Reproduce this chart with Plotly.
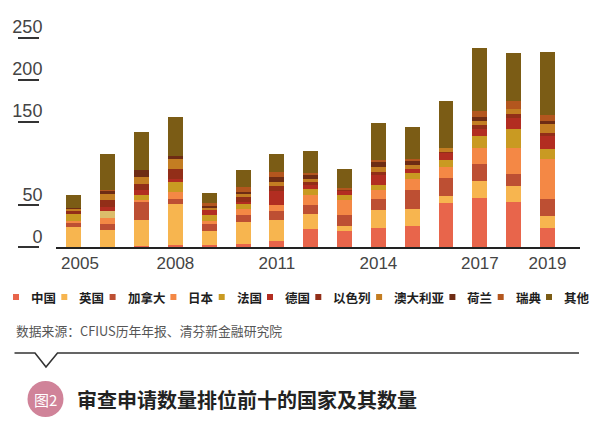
import plotly.graph_objects as go

# ---------------- data ----------------
years = list(range(2005, 2020))
series_names = ["中国", "英国", "加拿大", "日本", "法国", "德国", "以色列", "澳大利亚", "荷兰", "瑞典", "其他"]

china     = [0, 0, 2, 3, 3, 4, 8, 22, 19, 23, 26, 53, 59, 54, 23]
uk        = [24, 21, 31, 49, 16, 26, 25, 18, 7, 21, 20, 8, 20, 19, 14]
canada    = [6, 7, 22, 6, 9, 8, 10, 11, 12, 14, 23, 22, 20, 15, 21]
japan     = [2, 7, 2, 8, 4, 8, 7, 11, 18, 11, 12, 13, 20, 31, 48]
france    = [8, 8, 6, 12, 7, 6, 0, 8, 7, 6, 8, 8, 14, 22, 12]
germany   = [0, 5, 6, 4, 6, 2, 17, 4, 5, 11, 4, 9, 8, 14, 16]
israel    = [4, 8, 7, 11, 0, 6, 6, 5, 1, 4, 0, 1, 5, 4, 2]
australia = [2, 8, 8, 12, 2, 4, 5, 2, 0, 6, 5, 5, 5, 6, 11]
netherl   = [1, 4, 8, 4, 2, 2, 6, 6, 0, 6, 6, 0, 5, 0, 4]
sweden    = [0, 1, 0, 0, 4, 6, 6, 2, 2, 2, 1, 0, 7, 10, 7]
others    = [16, 42, 46, 47, 12, 20, 22, 26, 23, 44, 39, 56, 75, 57, 75]

series_values = [china, uk, canada, japan, france, germany, israel, australia, netherl, sweden, others]

x_tick_labels = ["2005", "2008", "2011", "2014", "2017", "2019"]
y_tick_labels = ["0", "50", "150", "200", "250"]

source_text = "数据来源：CFIUS历年年报、清芬新金融研究院"
badge_text = "图2"
title_text = "审查申请数量排位前十的国家及其数量"

# ---------------- style ----------------
colors = ["#E8654B", "#F7B54F", "#BD4F33", "#F48845", "#C99A22", "#B22D21",
          "#922E18", "#C37D22", "#6E2C14", "#B3561E", "#7B5C15"]

# the page body has an 8px margin: size the figure so it fills the 599x429 window
OFF = 8
W, H = 599 - OFF, 429 - OFF
def px(x):
    return (x - OFF) / W
def py(y):
    return 1 - (y - OFF) / H

fig = go.Figure()
for name, vals, col in zip(series_names, series_values, colors):
    cols = [col] * len(years)
    if name == "法国":
        cols[1] = "#DCBD6B"  # lighter tint in 2006 bar
    fig.add_trace(go.Bar(
        x=years, y=vals, name=name,
        marker=dict(color=cols, line=dict(width=0)),
        showlegend=False, hoverinfo="x+y+name",
    ))

tick_years = [int(t) for t in x_tick_labels]
tick_pos = [t + (0.18 if t == 2005 else 0) for t in tick_years]

fig.update_layout(
    width=W, height=H,
    margin=dict(l=0, r=0, t=0, b=0),
    paper_bgcolor="white", plot_bgcolor="white",
    barmode="stack", bargap=0.56, showlegend=False,
    xaxis=dict(
        domain=[px(56), px(580)], range=[2004.47, 2019.96],
        tickmode="array", tickvals=tick_pos, ticktext=x_tick_labels,
        showline=True, linecolor="#222", linewidth=1.5,
        ticks="", showgrid=False, zeroline=False,
        tickfont=dict(family="Liberation Sans", size=17, color="#444"),
        automargin=False,
    ),
    yaxis=dict(
        domain=[py(247.3), py(38)], range=[0, 250],
        anchor="free", position=px(39),
        tickmode="array", tickvals=[int(t) for t in y_tick_labels], ticktext=y_tick_labels,
        ticks="outside", ticklen=21, tickwidth=1.5, tickcolor="#333",
        ticklabelstandoff=-28, ticklabelshift=-11,
        showline=False, showgrid=False, zeroline=False,
        tickfont=dict(family="Liberation Sans", size=18, color="#444"),
        automargin=False,
    ),
)

shapes = []
annotations = []

# custom legend row
fs = 12.5
sq = 6
s2t = 10
t2s = 7.3
x = 13
ly = 297
for name, col in zip(series_names, colors):
    shapes.append(dict(type="rect", xref="paper", yref="paper",
                       x0=px(x), x1=px(x + sq), y0=py(ly + sq / 2), y1=py(ly - sq / 2),
                       fillcolor=col, line=dict(width=0)))
    tx = x + sq + s2t
    annotations.append(dict(text="<b>%s</b>" % name, xref="paper", yref="paper",
                            x=px(tx), y=py(ly), xanchor="left", yanchor="middle",
                            showarrow=False, align="left",
                            font=dict(family="Noto Sans CJK SC", size=fs, color="#1e1e1e")))
    x = tx + fs * len(name) + t2s

# source line
annotations.append(dict(text=source_text, xref="paper", yref="paper",
                        x=px(14), y=py(330), xanchor="left", yanchor="middle",
                        showarrow=False,
                        font=dict(family="Noto Sans CJK SC", size=12.8, color="#555")))

# separator with V notch
path = "M %f %f L %f %f L %f %f L %f %f L %f %f" % (
    px(14.5), py(353), px(35), py(353), px(46), py(367), px(57.5), py(353), px(579), py(353))
shapes.append(dict(type="path", xref="paper", yref="paper", path=path,
                   line=dict(color="#333", width=1.6)))

# badge circle
cx, cy, r = 45.5, 399, 18
shapes.append(dict(type="circle", xref="paper", yref="paper",
                   x0=px(cx - r), x1=px(cx + r), y0=py(cy + r), y1=py(cy - r),
                   fillcolor="#D08399", line=dict(width=0)))
annotations.append(dict(text=badge_text, xref="paper", yref="paper",
                        x=px(cx), y=py(cy), xanchor="center", yanchor="middle",
                        showarrow=False,
                        font=dict(family="Noto Sans CJK SC", size=15, color="white")))

# title
annotations.append(dict(text="<b>%s</b>" % title_text, xref="paper", yref="paper",
                        x=px(75), y=py(399), xanchor="left", yanchor="middle",
                        showarrow=False,
                        font=dict(family="Noto Sans CJK SC", size=20, color="#222")))

fig.update_layout(shapes=shapes, annotations=annotations)
fig.write_html("out.html")
